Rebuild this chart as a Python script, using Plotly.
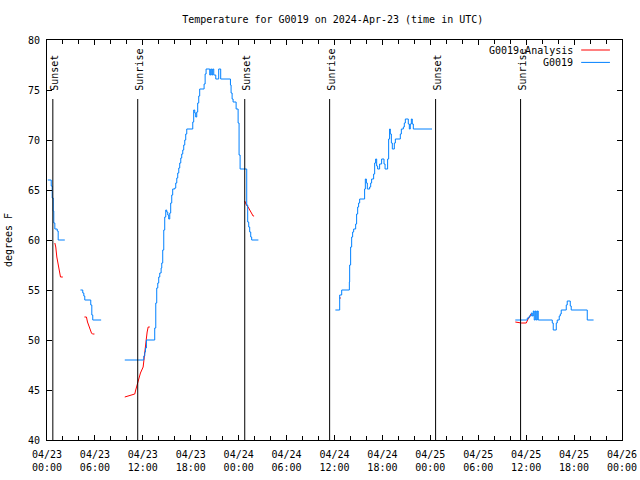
import pandas as pd
import plotly.graph_objects as go

BASE = pd.Timestamp("2024-04-23 00:00")

# Observed G0019 temperature (hours since 2024-04-23 00:00 UTC, degrees F), per segment
obs_hours = [
    [0.10, 0.53, 0.65, 0.78, 0.85, 0.98, 1.28, 1.40, 2.23],
    [4.19, 4.48, 4.61, 4.73, 5.48, 5.61, 5.73, 6.78],
    [9.74, 12.12, 12.24, 12.33, 12.45, 13.49, 13.62, 13.74, 13.87, 13.99, 14.12, 14.29,
     14.37, 14.49, 14.62, 14.74, 14.87, 14.99, 15.12, 15.24, 15.37, 15.49, 15.62, 15.74,
     16.00, 16.12, 16.25, 16.37, 16.50, 16.62, 16.75, 16.87, 17.00, 17.12, 17.25, 17.37,
     17.50, 18.25, 18.37, 18.50, 18.62, 18.75, 18.87, 19.00, 19.12, 19.67, 19.80, 19.92,
     20.38, 20.50, 20.63, 20.75, 20.88, 21.13, 21.50, 21.75, 22.97, 23.05, 23.18, 23.30,
     23.68, 23.93, 24.05, 24.18, 25.01, 25.13, 25.26, 25.38, 25.51, 25.63, 26.47],
    [36.11, 36.65, 36.90, 37.86, 37.90, 38.02, 38.15, 38.27, 38.40, 38.65, 38.77, 38.90,
     39.02, 39.15, 39.77, 39.86, 39.99, 40.11, 40.40, 40.53, 40.65, 40.90, 41.03, 41.15,
     41.28, 41.40, 41.65, 41.90, 42.20, 42.33, 42.65, 42.78, 42.90, 42.99, 43.12, 43.24,
     43.49, 43.62, 44.24, 44.37, 44.62, 44.74, 44.87, 45.24, 45.37, 45.49, 45.62, 45.74,
     45.87, 48.21],
    [58.64, 60.14, 60.39, 60.64, 60.76, 60.89, 61.01, 61.14, 61.26, 61.39, 61.51, 63.27,
     63.39, 63.77, 63.89, 64.14, 64.27, 64.39, 65.02, 65.14, 65.52, 65.64, 67.65, 68.44],
]
obs_temps = [
    [66, 65.4, 64.2, 62.9, 61.7, 61.1, 60.9, 60, 60],
    [55, 54.7, 54.4, 54, 53.5, 52.5, 52, 52],
    [48, 48.4, 48.8, 49.2, 50, 51.2, 53.7, 55.2, 55.7, 56.3, 56.7, 57.2,
     57.7, 59, 61, 62.3, 63, 62.8, 62.5, 62.1, 62.7, 63.7, 64.5, 65.1,
     65.2, 65.7, 66.2, 66.7, 67.2, 67.7, 68.2, 68.6, 69, 69.5, 70, 70.6,
     71.1, 71.8, 73, 72.7, 72.3, 72.8, 73.7, 74.4, 75.1, 75.6, 76.6, 77.1,
     76.5, 77.1, 76.5, 77.1, 76.5, 76.1, 77.1, 76.1, 75.5, 74.7, 74.1, 73.8,
     73.1, 71.7, 68.5, 67.1, 63.5, 61.8, 61.3, 60.8, 60.3, 60, 60],
    [53, 54.5, 55, 55.8, 57.5, 59.3, 60.3, 60.8, 61.1, 61.6, 62.6, 63.3,
     63.7, 64.1, 65.1, 66.1, 65.7, 65.1, 65.3, 65.7, 66.1, 66.6, 67.7, 68.1,
     67.4, 67.1, 67.6, 68.1, 67.6, 67.1, 68.1, 70.1, 71.1, 70.6, 69.7, 69.1,
     69.7, 70.1, 70.6, 71.1, 71.3, 71.7, 72.1, 71.6, 71.1, 71.6, 72.1, 71.6,
     71.1, 71.1],
    [52, 52.2, 52.4, 52.7, 52.4, 52.9, 52, 52.9, 52, 52.9, 52, 51.7,
     51, 51.7, 52, 52.4, 52.6, 53, 53.5, 53.9, 53.4, 53, 52, 52],
]

# G0019 Analysis, per segment
ana_hours = [
    [0.98, 1.10, 1.23, 1.35, 1.48, 1.60, 1.69, 1.98],
    [4.69, 4.94, 5.07, 5.19, 5.32, 5.44, 5.57, 5.69, 5.94],
    [9.74, 10.24, 10.79, 10.99, 11.11, 11.29, 11.41, 11.70, 12.04, 12.14, 12.24, 12.42,
     12.54, 12.67, 12.87],
    [24.76, 24.97, 25.18, 25.38, 25.59, 25.81, 25.93],
    [36.62, 36.80],
    [58.64, 59.39, 60.01, 60.14, 60.30, 60.48, 60.60],
]
ana_temps = [
    [59.7, 59.3, 58.3, 57.7, 57.1, 56.7, 56.3, 56.3],
    [52.3, 52.3, 51.8, 51.5, 51.2, 50.9, 50.7, 50.6, 50.6],
    [44.3, 44.4, 44.5, 44.6, 45, 45.5, 45.8, 46.7, 47.3, 48.2, 49.2, 50,
     50.8, 51.3, 51.3],
    [63.9, 63.5, 63.3, 63, 62.7, 62.4, 62.4],
    [54.2, 54.2],
    [51.8, 51.7, 51.7, 52, 52.2, 52.4, 52.6],
]

# Sun events (hours since start)
event_hours = [0.73, 11.36, 24.76, 35.39, 48.66, 59.30]
event_names = ["Sunset", "Sunrise", "Sunset", "Sunrise", "Sunset", "Sunrise"]

tick_hours = list(range(0, 73, 6))
tick_labels = [(BASE + pd.Timedelta(hours=h)).strftime("%m/%d<br>%H:%M") for h in tick_hours]

BLUE = "rgb(0,128,255)"
RED = "rgb(255,0,0)"
FONT = "DejaVu Sans Mono"


def to_time(hours):
    return [BASE + pd.Timedelta(hours=h) for h in hours]


fig = go.Figure()
for hs, ts in zip(ana_hours, ana_temps):
    fig.add_trace(go.Scatter(x=to_time(hs), y=ts, mode="lines",
                             line=dict(color=RED, width=1), showlegend=False))
for hs, ts in zip(obs_hours, obs_temps):
    fig.add_trace(go.Scatter(x=to_time(hs), y=ts, mode="lines",
                             line=dict(color=BLUE, width=1, shape="hv"), showlegend=False))

for h, name in zip(event_hours, event_names):
    t = BASE + pd.Timedelta(hours=h)
    fig.add_shape(type="line", xref="x", yref="y", x0=t, x1=t, y0=40, y1=74.1,
                  line=dict(color="black", width=1))
    fig.add_annotation(x=t, y=74.7, xref="x", yref="y", text=name, textangle=-90,
                       showarrow=False, xanchor="center", yanchor="bottom", xshift=1,
                       font=dict(family=FONT, size=10, color="black"))

# legend (gnuplot style: text then line sample)
legend_items = [("G0019 Analysis", RED), ("G0019", BLUE)]
for i, (name, col) in enumerate(legend_items):
    yp = 0.975 - i * 0.031
    fig.add_annotation(x=0.918, y=yp, xref="paper", yref="paper", text=name,
                       showarrow=False, xanchor="right", yanchor="middle",
                       font=dict(family=FONT, size=10, color="black"))
    fig.add_shape(type="line", xref="paper", yref="paper", x0=0.929, x1=0.979,
                  y0=yp, y1=yp, line=dict(color=col, width=1))

start = BASE
end = BASE + pd.Timedelta(hours=72)
fig.update_layout(
    width=640, height=480,
    margin=dict(l=47, r=18, t=40, b=40),
    paper_bgcolor="white", plot_bgcolor="white",
    font=dict(family=FONT, size=10, color="black"),
    title=dict(text="Temperature for G0019 on 2024-Apr-23 (time in UTC)",
               x=0.497, xref="paper", y=1 - 19 / 480, yanchor="middle",
               font=dict(family=FONT, size=10, color="black")),
    showlegend=False,
)
fig.update_xaxes(
    type="date", range=[start, end], automargin=False,
    tickvals=to_time(tick_hours), ticktext=tick_labels,
    ticks="inside", ticklen=5, tickcolor="black", ticklabelstandoff=5,
    showline=True, linecolor="black", linewidth=1, mirror="ticks",
    showgrid=False, zeroline=False,
    minor=dict(dtick=2 * 3600 * 1000, ticks="inside", ticklen=4, tickcolor="black", showgrid=False),
    tickfont=dict(family=FONT, size=10, color="black"),
)
fig.update_yaxes(
    range=[40, 80], dtick=5, tick0=40, automargin=False,
    ticks="inside", ticklen=5, tickcolor="black", ticklabelstandoff=4,
    showline=True, linecolor="black", linewidth=1, mirror="ticks",
    showgrid=False, zeroline=False,
    title=dict(text="degrees F", standoff=13, font=dict(family=FONT, size=10, color="black")),
    tickfont=dict(family=FONT, size=10, color="black"),
)

# remove the default 8px page margin so the 640x480 figure fills the window exactly
fig.write_html("out.html", config={"displayModeBar": False},
               post_script="document.body.style.margin='0';")
